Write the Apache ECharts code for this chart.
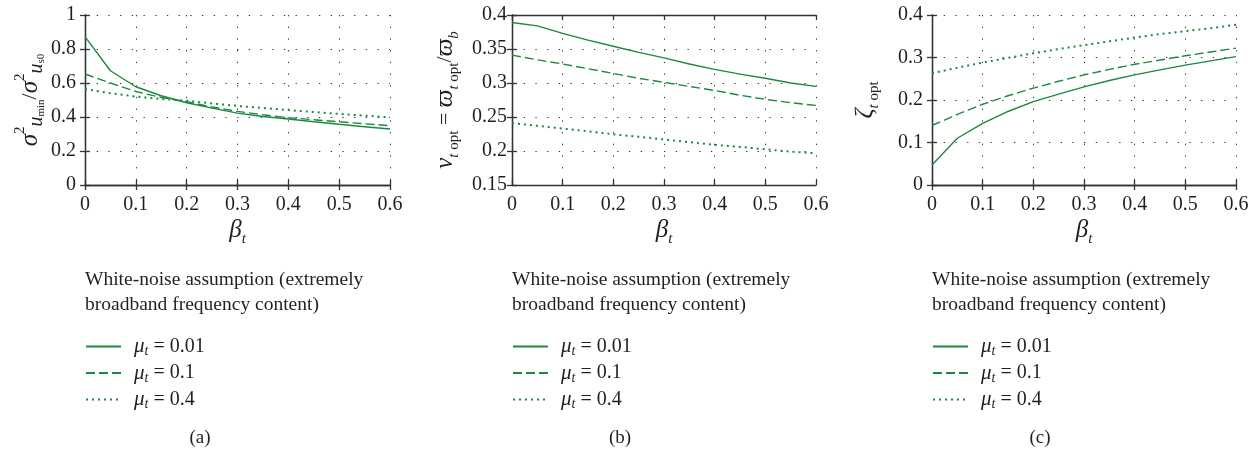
<!DOCTYPE html>
<html><head><meta charset="utf-8">
<script src="https://cdn.jsdelivr.net/npm/echarts@6/dist/echarts.min.js"></script>
<style>html,body{margin:0;padding:0;background:#fff}#c{width:1260px;height:455px}</style>
</head><body><div id="c"></div>
<script>
const betaT = [0, 0.05, 0.1, 0.15, 0.2, 0.25, 0.3, 0.35, 0.4, 0.45, 0.5, 0.55, 0.6];
const seriesNames = ['mu001', 'mu01', 'mu04'];
const legendLabels = ['0.01', '0.1', '0.4'];
// Panel (a): sigma^2_umin / sigma^2_us0
const aMu001 = [0.873,0.672,0.578,0.525,0.484,0.452,0.423,0.403,0.388,0.372,0.357,0.343,0.329];
const aMu01  = [0.653,0.600,0.550,0.515,0.490,0.459,0.433,0.413,0.396,0.384,0.372,0.360,0.349];
const aMu04  = [0.565,0.540,0.520,0.506,0.496,0.480,0.465,0.453,0.441,0.429,0.418,0.408,0.398];
// Panel (b): nu_t opt
const bMu001 = [0.389,0.384,0.373,0.363,0.354,0.345,0.337,0.328,0.320,0.313,0.307,0.300,0.295];
const bMu01  = [0.341,0.334,0.328,0.321,0.314,0.307,0.301,0.295,0.289,0.282,0.276,0.271,0.267];
const bMu04  = [0.241,0.237,0.233,0.229,0.2245,0.221,0.217,0.213,0.209,0.206,0.2025,0.199,0.1966];
// Panel (c): zeta_t opt
const cMu001 = [0.047,0.110,0.145,0.173,0.196,0.214,0.231,0.246,0.259,0.271,0.282,0.292,0.302];
const cMu01  = [0.140,0.166,0.190,0.210,0.228,0.244,0.259,0.272,0.284,0.294,0.304,0.313,0.322];
const cMu04  = [0.263,0.276,0.288,0.299,0.310,0.320,0.329,0.338,0.347,0.355,0.362,0.369,0.377];
const xTicks = [0, 0.1, 0.2, 0.3, 0.4, 0.5, 0.6];
const yRanges = [[0, 1, 0.2], [0.15, 0.4, 0.05], [0, 0.4, 0.1]];
const captions = ['(a)', '(b)', '(c)'];
const noteText = 'White-noise assumption (extremely\nbroadband frequency content)';

const FONT = 'Liberation Serif';
const GREEN = '#1b8a3e';
const INK = '#231f20';
const grids = [
  {left: 85, width: 305, top: 15, height: 170},
  {left: 512, width: 304, top: 15, height: 170},
  {left: 932, width: 304, top: 15, height: 170}
];
const panelData = [[aMu001, aMu01, aMu04], [bMu001, bMu01, bMu04], [cMu001, cMu01, cMu04]];
const lineTypes = ['solid', [9, 4], [2, 4]];
const lineWidths = [1.4, 1.4, 2];

const sub = {fontFamily: FONT, fontSize: 15, fontStyle: 'italic', color: INK, verticalAlign: 'bottom', lineHeight: 18};
const yNames = [
  '{m|σ}{sup|2}{u|u}{ss|min}{n|/}{m|σ}{sup|2}{u|u}{ss|s0}',
  '{m|ν}{si|t}{s| opt}{n| = }{m|ϖ}{si|t}{s| opt}{n|/}{m|ϖ}{si|b}',
  '{m|ζ}{si|t}{s| opt}'
];
const nameRich = {
  m: {fontFamily: FONT, fontSize: 25, fontStyle: 'italic', color: INK, lineHeight: 34},
  n: {fontFamily: FONT, fontSize: 22, color: INK, lineHeight: 34},
  sup: {fontFamily: FONT, fontSize: 15, color: INK, verticalAlign: 'top', lineHeight: 14},
  u: {fontFamily: FONT, fontSize: 20, fontStyle: 'italic', color: INK, verticalAlign: 'bottom', lineHeight: 26},
  ss: {fontFamily: FONT, fontSize: 11, color: INK, verticalAlign: 'bottom', lineHeight: 8},
  si: Object.assign({}, sub),
  s: Object.assign({}, sub, {fontStyle: 'normal'})
};
const yNameGaps = [38, 50, 50];
const yLabelMargins = [9, 5, 9];

const splitLine = {show: true, lineStyle: {color: '#333', type: [1.3, 10.4], width: 1}};
const xAxis = [], yAxis = [], series = [], legend = [], title = [];
for (let i = 0; i < 3; i++) {
  const [ymin, ymax, yint] = yRanges[i];
  xAxis.push({
    gridIndex: i, type: 'value', min: 0, max: 0.6, interval: 0.1,
    axisLine: {show: true, lineStyle: {color: '#333', width: 1.3}},
    axisTick: {show: true, inside: true, length: 5, lineStyle: {color: '#333', width: 1.3}},
    axisLabel: {fontFamily: FONT, fontSize: 20, color: INK, margin: 10,
      formatter: v => { const t = xTicks.find(x => Math.abs(x - v) < 1e-9); return t === undefined ? '' : String(t); }},
    splitLine: splitLine,
    name: '{m|β}{si|t}', nameLocation: 'middle', nameGap: 28,
    nameTextStyle: {rich: nameRich}
  });
  yAxis.push({
    gridIndex: i, type: 'value', min: ymin, max: ymax, interval: yint,
    axisLine: {show: true, lineStyle: {color: '#333', width: 1.3}},
    axisTick: {show: true, inside: true, length: 5, lineStyle: {color: '#333', width: 1.3}},
    axisLabel: {fontFamily: FONT, fontSize: 20, color: INK, margin: yLabelMargins[i],
      formatter: v => String(parseFloat(v.toFixed(2)))},
    splitLine: splitLine,
    name: yNames[i], nameLocation: 'middle', nameGap: yNameGaps[i], nameRotate: 90,
    nameTextStyle: {rich: nameRich}
  });
  series.push(...panelData[i].map((d, k) => ({
    type: 'line', name: seriesNames[k], xAxisIndex: i, yAxisIndex: i,
    data: betaT.map((x, j) => [x, d[j]]), symbol: 'none', smooth: false,
    lineStyle: {color: GREEN, width: lineWidths[k], type: lineTypes[k]},
    itemStyle: {color: 'rgba(0,0,0,0)', borderWidth: 0}, silent: true, animation: false
  })));
  legend.push({
    orient: 'vertical', left: grids[i].left, top: 336, padding: 0,
    itemWidth: 35, itemHeight: 20, itemGap: 4,
    data: seriesNames, selectedMode: false,
    itemStyle: {color: 'rgba(0,0,0,0)', borderWidth: 0},
    lineStyle: {color: GREEN},
    formatter: name => '{i|μ}{si|t}{n| = ' + legendLabels[seriesNames.indexOf(name)] + '}',
    textStyle: {padding: [0, 0, 0, 8], rich: {
      i: {fontFamily: FONT, fontSize: 21, fontStyle: 'italic', color: INK, lineHeight: 24},
      si: {fontFamily: FONT, fontSize: 14, fontStyle: 'italic', color: INK, verticalAlign: 'bottom', lineHeight: 14},
      n: {fontFamily: FONT, fontSize: 20, color: INK, lineHeight: 24}
    }}
  });
  title.push({
    text: noteText, left: grids[i].left, top: 267, padding: 0,
    textStyle: {fontFamily: FONT, fontSize: 19.5, fontWeight: 'normal', color: INK, lineHeight: 25}
  });
  title.push({
    text: captions[i], left: [200, 620, 1040][i], top: 429, padding: 0, textAlign: 'center',
    textStyle: {fontFamily: FONT, fontSize: 19, fontWeight: 'normal', color: INK}
  });
}
// mirror axes for ticks on top/right
const gridOpts = grids.map(g => Object.assign({show: false, containLabel: false}, g));
for (let i = 0; i < 3; i++) {
  const [ymin, ymax, yint] = yRanges[i];
  xAxis.push({gridIndex: i, type: 'value', position: 'top', min: 0, max: 0.6, interval: 0.1,
    axisLine: {show: true, lineStyle: {color: '#333', width: 1.3}},
    axisTick: {show: true, inside: true, length: 5, lineStyle: {color: '#333', width: 1.3}},
    axisLabel: {show: false}, splitLine: {show: false}});
  yAxis.push({gridIndex: i, type: 'value', position: 'right', min: ymin, max: ymax, interval: yint,
    axisLine: {show: true, lineStyle: {color: '#333', width: 1.3}},
    axisTick: {show: true, inside: true, length: 5, lineStyle: {color: '#333', width: 1.3}},
    axisLabel: {show: false}, splitLine: {show: false}});
}
const chart = echarts.init(document.getElementById('c'), null, {renderer: 'canvas'});
chart.setOption({
  backgroundColor: '#fff', animation: false,
  grid: gridOpts, xAxis, yAxis, series, legend, title
});
</script></body></html>
